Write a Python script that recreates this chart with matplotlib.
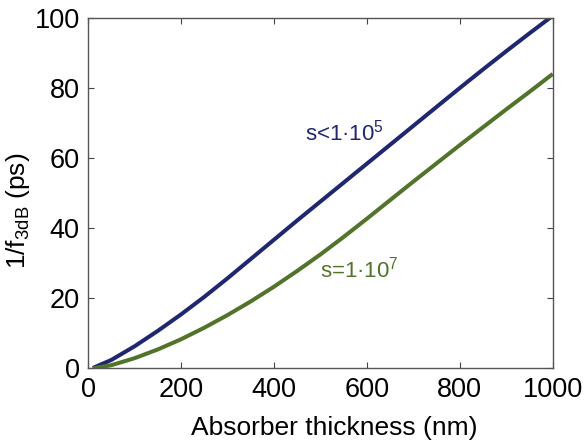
import numpy as np
import matplotlib
matplotlib.use("Agg")
import matplotlib.pyplot as plt

plt.rcParams['font.family'] = ['Liberation Sans', 'DejaVu Sans']
plt.rcParams['mathtext.fontset'] = 'custom'
plt.rcParams['mathtext.rm'] = 'Liberation Sans'
plt.rcParams['mathtext.it'] = 'Liberation Sans'

# absorber thickness (nm)
thickness = [10, 50, 100, 150, 200, 250, 300, 350, 400, 450, 500,
             550, 600, 650, 700, 750, 800, 850, 900, 950, 1000]
# 1/f3dB (ps) for the two surface recombination velocities
inv_f_low_s = [0.1, 2.4, 6.3, 10.7, 15.4, 20.4, 25.7, 31.2, 36.7, 42.2, 47.6,
               53.0, 58.4, 63.8, 69.2, 74.6, 80.0, 85.3, 90.5, 95.6, 100.6]
inv_f_high_s = [0.0, 0.9, 2.9, 5.4, 8.3, 11.6, 15.2, 19.1, 23.3, 27.8, 32.5,
                37.5, 42.7, 48.0, 53.3, 58.5, 63.7, 68.8, 73.9, 78.9, 84.0]

blue = '#1f2770'
green = '#52732a'

fig = plt.figure(figsize=(5.88, 4.47), dpi=100)
ax = fig.add_axes([0.150, 0.176, 0.790, 0.784])

ax.plot(thickness, inv_f_low_s, color=blue, linewidth=2.9, solid_capstyle='butt')
ax.plot(thickness, inv_f_high_s, color=green, linewidth=2.9, solid_capstyle='butt')

ax.text(467, 65, 's<1·10$^{\\mathregular{5}}$', color=blue, fontsize=16,
        ha='left', va='baseline')
ax.text(499, 26, 's=1·10$^{\\mathregular{7}}$', color=green, fontsize=16,
        ha='left', va='baseline')

ax.set_xlim(0, 1000)
ax.set_ylim(0, 100)
ax.set_xticks(range(0, 1001, 200))
ax.set_yticks(range(0, 101, 20))
ax.tick_params(direction='in', top=True, right=True, length=4, width=0.8,
               labelsize=19.5, color='#444444', pad=6)
for sp in ax.spines.values():
    sp.set_color('#555555')
    sp.set_linewidth(1.0)

ax.set_xlabel('Absorber thickness (nm)', fontsize=19)
ax.set_ylabel('1/f$_{\\mathregular{3dB}}$ (ps)', fontsize=19)
ax.xaxis.set_label_coords(0.53, -0.135)
ax.yaxis.set_label_coords(-0.12, 0.45)

fig.savefig('out.png', dpi=100)
